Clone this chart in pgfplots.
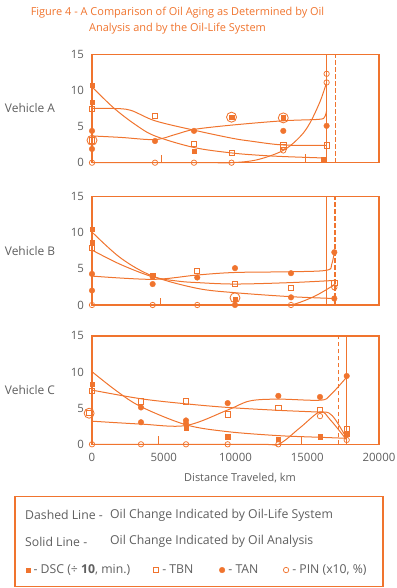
\documentclass[border=0pt]{standalone}
\usepackage{fontspec}
\setmainfont{Open Sans}
\usepackage{pgfplots}
\pgfplotsset{compat=1.18}
\definecolor{oc}{RGB}{240,116,46}
\definecolor{tg}{RGB}{95,95,95}
\pgfplotsset{
 panel/.style={
   scale only axis, width=287bp, height=108.4bp,
   xmin=0, xmax=20000, ymin=0, ymax=15,
   ytick={0,5,10,15},
   axis line style={oc, line width=1.4bp},
   major tick length=0pt,
   tick label style={tg, font=\fontsize{11.5}{12}\selectfont},
   yticklabel style={xshift=-4.5bp},
   xticklabel style={yshift=-5bp},
   /pgf/number format/assume math mode=true,
   clip=false, anchor=south west,
   scaled x ticks=false,
   xticklabel style={/pgf/number format/1000 sep={}},
 },
 crv/.style={oc, line width=1bp, smooth, tension=0.55, no marks, forget plot},
 dsc/.style={only marks, mark=square*, mark size=2.2bp, oc, mark options={solid}},
 tbn/.style={only marks, mark=square, mark size=2.6bp, oc, mark options={line width=0.75bp, solid}},
 tan/.style={only marks, mark=*, mark size=2.8bp, oc},
 pin/.style={only marks, mark=o, mark size=2.7bp, oc, mark options={line width=0.75bp}},
 big/.style={only marks, mark=o, mark size=5bp, oc, mark options={line width=0.85bp}, forget plot},
 vsolid/.style={oc, line width=1.1bp, forget plot},
 vdash/.style={oc, line width=1.5bp, dash pattern=on 4.5bp off 2.5bp, forget plot},
 tk/.style={oc, line width=0.9bp, forget plot},
}
\begin{document}
\begin{tikzpicture}
\path[use as bounding box] (0,0) rectangle (397bp,588bp);
% title
\node[align=center, text=oc, font=\fontsize{11}{16}\selectfont] at (177.5bp,567bp)
  {Figure 4 - A Comparison of Oil Aging as Determined by Oil\\Analysis and by the Oil-Life System};

% ---------------- Vehicle A
\begin{axis}[panel, at={(92bp,425.3bp)}, xticklabels={}]
\addplot[crv] coordinates {(0,10.5) (1500,7.6) (3000,5.3) (4390,3.7) (7108,2.1) (9723,1.35) (11500,1.05) (13330,0.85) (16200,0.65)};
\addplot[crv] coordinates {(0,7.5) (1500,7.5) (2700,7.25) (4390,5.8) (7108,4.5) (9723,3.4) (11010,3.0) (13330,2.45) (16350,2.4)};
\addplot[crv] coordinates {(0,3.7) (2000,3.5) (4390,3.2) (5800,3.9) (7108,4.6) (9723,5.2) (13330,5.8) (15800,6.0) (16200,6.3) (16350,7.2)};
\addplot[crv] coordinates {(0,0) (8000,0) (9723,0) (11500,0.4) (13330,1.7) (14500,3.6) (15190,5.5) (15900,8.5) (16350,11.1)};
\addplot[vsolid] coordinates {(16350,0) (16350,15)};
\addplot[vdash] coordinates {(16980,0) (16980,15)};
\addplot[tk] coordinates {(4838,0) (4838,1.0)};
\addplot[tk] coordinates {(14840,0) (14840,1.15)};
\addplot[dsc, forget plot] coordinates {(0,10.7) (0,8.4) (7108,1.6) (9723,6.3) (13330,6.2) (16120,0.4)};
\addplot[tbn, forget plot] coordinates {(0,7.5) (0,3.1) (4390,6.5) (7108,2.6) (9723,1.4) (13330,2.5) (13330,2.2) (16350,2.4)};
\addplot[tan, forget plot] coordinates {(0,4.4) (0,1.9) (4390,3.0) (7108,4.4) (13330,4.4) (16350,5.1)};
\addplot[pin, forget plot] coordinates {(0,0) (4390,0) (7108,0) (9723,0) (13330,1.7) (16350,12.3) (16350,11.1)};
\addplot[big] coordinates {(0,3.1) (9723,6.3) (13330,6.2)};
\node[tg, font=\fontsize{12}{13}\selectfont] at (rel axis cs:-0.216,0.5) {Vehicle A};
\end{axis}

% ---------------- Vehicle B
\begin{axis}[panel, at={(92bp,283bp)}, xticklabels={}]
\addplot[crv] coordinates {(0,10.1) (2000,6.5) (4228,4.0) (7335,2.3) (9965,1.7) (13868,1.15) (16887,0.9)};
\addplot[crv] coordinates {(0,7.6) (2000,5.6) (4228,3.9) (6000,3.3) (7335,3.1) (9965,2.9) (13868,3.1) (16887,3.4)};
\addplot[crv] coordinates {(0,4.0) (4228,3.55) (7335,4.15) (9965,4.5) (13868,4.6) (16350,4.8) (16700,5.6) (16887,7.3)};
\addplot[crv] coordinates {(0,0) (12500,0) (13868,0) (15500,1.2) (16887,2.8)};
\addplot[vsolid] coordinates {(16350,0) (16350,15)};
\addplot[vdash] coordinates {(16930,0) (16930,15)};
\addplot[tk] coordinates {(4790,0) (4790,0.9)};
\addplot[dsc, forget plot] coordinates {(0,10.5) (0,8.7) (4228,4.1) (9965,0.8)};
\addplot[tbn, forget plot] coordinates {(0,7.85) (7335,4.7) (9965,2.9) (13868,2.4) (16887,3.1)};
\addplot[tan, forget plot] coordinates {(0,4.3) (0,2.0) (4228,3.9) (4228,2.9) (7335,3.8) (9965,5.1) (9965,0) (13868,4.4) (13868,1.06) (16887,7.3) (16887,0.9)};
\addplot[pin, forget plot] coordinates {(0,0) (4228,0) (7335,0) (13868,0) (16887,2.45)};
\addplot[big] coordinates {(9965,1.0)};
\node[tg, font=\fontsize{12}{13}\selectfont] at (rel axis cs:-0.216,0.5) {Vehicle B};
\end{axis}

% ---------------- Vehicle C
\begin{axis}[panel, at={(92bp,143.7bp)},
  xtick={0,5000,10000,15000,20000},
  legend columns=4,
  legend cell align=left,
  legend style={draw=none, fill=none, at={(-0.2317,-1.16)}, anchor=west,
     font=\fontsize{12.3}{13}\selectfont, text=tg, inner sep=0pt,
     nodes={inner sep=0pt},
     /tikz/every odd column/.append style={column sep=3.5bp},
     /tikz/every even column/.append style={column sep=0bp}},
  legend image code/.code={\draw[#1] plot coordinates {(0bp,0bp)};},
]
\addplot[dsc] coordinates {(0,8.3) (6551,2.2) (9455,1.06) (12985,0.7) (15889,1.06) (17750,1.4)};
\addlegendentry{\makebox[120bp][l]{- DSC (÷ \textbf{10}, min.)}}
\addplot[tbn] coordinates {(0,7.4) (-200,4.3) (3415,5.95) (6551,5.95) (9455,4.15) (12985,5.0) (15889,4.75) (17750,2.1)};
\addlegendentry{\makebox[57bp][l]{- TBN}}
\addplot[tan] coordinates {(3415,5.1) (3415,3.05) (6551,3.3) (6551,2.85) (9455,5.7) (12985,6.7) (15889,6.55) (17750,9.45)};
\addlegendentry{\makebox[55bp][l]{- TAN}}
\addplot[pin] coordinates {(0,0) (3415,0) (6551,0) (9455,0) (12985,0) (15889,3.9) (17750,0.6)};
\addlegendentry{- PIN (x10, \%)}
\addplot[crv] coordinates {(0,10.05) (1700,7.4) (3415,5.2) (6551,2.7) (9455,1.75) (12985,1.2) (15889,0.97) (17750,0.83)};
\addplot[crv] coordinates {(0,7.5) (3415,6.3) (6551,5.6) (9455,5.1) (12985,4.7) (15889,4.45) (16500,4.35) (17000,3.3) (17750,0.83)};
\addplot[crv] coordinates {(0,3.2) (3415,2.8) (6551,2.6) (9455,4.75) (11000,6.0) (12985,6.25) (15889,6.1) (16600,6.8) (17750,9.3)};
\addplot[crv] coordinates {(0,0) (11500,0) (12985,0) (14500,2.3) (15889,4.5) (16600,3.4) (17750,0.6)};
\addplot[vdash] coordinates {(17170,0) (17170,15)};
\addplot[vsolid] coordinates {(17750,0) (17750,15)};
\addplot[tk] coordinates {(4650,0) (4650,1.15)};
\addplot[tk] coordinates {(14600,0) (14600,1.0)};
\addplot[big] coordinates {(-200,4.3)};
\node[tg, font=\fontsize{12}{13}\selectfont] at (rel axis cs:-0.216,0.5) {Vehicle C};
\end{axis}

\node[tg, font=\fontsize{11}{12}\selectfont] at (240bp,110bp) {Distance Traveled, km};
\draw[oc, line width=1.3bp] (15bp,1.3bp) rectangle (383bp,91.3bp);
\node[tg, anchor=west, inner sep=0pt, font=\fontsize{12.3}{13}\selectfont] at (25bp,73bp) {Dashed Line -};
\node[tg, anchor=west, inner sep=0pt, font=\fontsize{12.3}{13}\selectfont] at (110bp,73bp) {Oil Change Indicated by Oil-Life System};
\node[tg, anchor=west, inner sep=0pt, font=\fontsize{12.3}{13}\selectfont] at (25bp,46.3bp) {Solid Line -};
\node[tg, anchor=west, inner sep=0pt, font=\fontsize{12.3}{13}\selectfont] at (110bp,46.3bp) {Oil Change Indicated by Oil Analysis};
\end{tikzpicture}
\end{document}
